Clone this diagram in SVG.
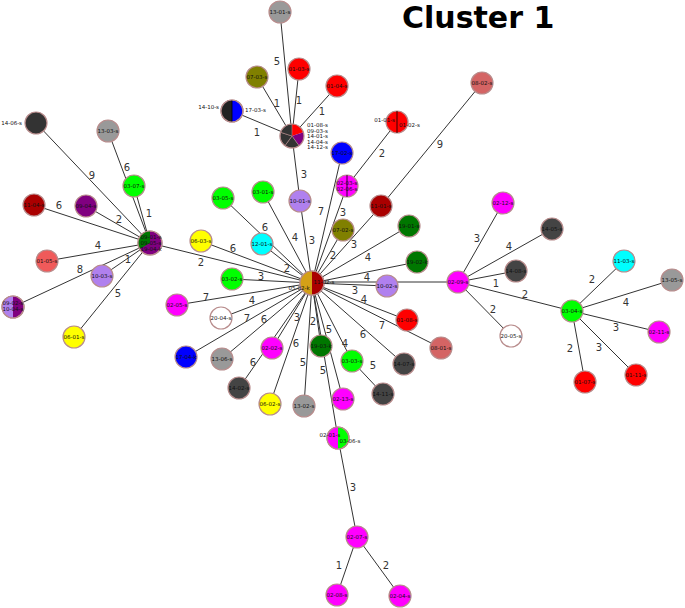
<svg xmlns="http://www.w3.org/2000/svg" width="685" height="608" viewBox="0 0 685 608">
<style>
.c line{stroke:#333;stroke-width:1}
.e{font-family:"DejaVu Sans",Verdana,sans-serif;font-size:10px;fill:#333;text-anchor:middle}
.n circle,.n path.o{stroke:#b88c8c;stroke-width:1.2}
.t{font-family:"DejaVu Sans",Verdana,sans-serif;font-size:5.5px;fill:#111;text-anchor:middle}
.s{stroke:#000;stroke-width:0.8}
</style>
<rect width="685" height="608" fill="#fff"/>
<text x="402" y="28" font-family="'DejaVu Sans',Verdana,sans-serif" font-weight="bold" font-size="30" fill="#000">Cluster 1</text>
<g id="connectors" class="c">
<line x1="150" y1="243" x2="36" y2="123"/>
<line x1="150" y1="243" x2="108" y2="131"/>
<line x1="150" y1="243" x2="134" y2="186"/>
<line x1="150" y1="243" x2="34" y2="205"/>
<line x1="150" y1="243" x2="86" y2="206"/>
<line x1="150" y1="243" x2="47" y2="261"/>
<line x1="150" y1="243" x2="102" y2="276"/>
<line x1="150" y1="243" x2="13" y2="307"/>
<line x1="150" y1="243" x2="74" y2="337"/>
<line x1="150" y1="243" x2="312" y2="283"/>
<line x1="292" y1="136" x2="280" y2="12"/>
<line x1="292" y1="136" x2="257" y2="77"/>
<line x1="292" y1="136" x2="299" y2="69"/>
<line x1="292" y1="136" x2="337" y2="86"/>
<line x1="292" y1="136" x2="232" y2="111"/>
<line x1="292" y1="136" x2="300" y2="201"/>
<line x1="312" y1="283" x2="300" y2="201"/>
<line x1="312" y1="283" x2="342" y2="153"/>
<line x1="312" y1="283" x2="347" y2="186"/>
<line x1="347" y1="186" x2="397" y2="122"/>
<line x1="312" y1="283" x2="381" y2="206"/>
<line x1="381" y1="206" x2="482" y2="83"/>
<line x1="312" y1="283" x2="343" y2="230"/>
<line x1="312" y1="283" x2="409" y2="226"/>
<line x1="312" y1="283" x2="417" y2="262"/>
<line x1="312" y1="283" x2="387" y2="286"/>
<line x1="312" y1="282" x2="458" y2="282"/>
<line x1="312" y1="283" x2="407" y2="320"/>
<line x1="312" y1="283" x2="441" y2="348"/>
<line x1="312" y1="283" x2="404" y2="364"/>
<line x1="312" y1="283" x2="352" y2="361"/>
<line x1="352" y1="361" x2="383" y2="394"/>
<line x1="312" y1="283" x2="343" y2="399"/>
<line x1="312" y1="283" x2="321" y2="346"/>
<line x1="312" y1="283" x2="338" y2="438"/>
<line x1="312" y1="283" x2="304" y2="406"/>
<line x1="312" y1="283" x2="270" y2="404"/>
<line x1="312" y1="283" x2="272" y2="348"/>
<line x1="312" y1="283" x2="239" y2="388"/>
<line x1="312" y1="283" x2="222" y2="359"/>
<line x1="312" y1="283" x2="186" y2="357"/>
<line x1="312" y1="283" x2="221" y2="318"/>
<line x1="312" y1="283" x2="177" y2="305"/>
<line x1="312" y1="283" x2="232" y2="279"/>
<line x1="312" y1="283" x2="262" y2="244"/>
<line x1="312" y1="283" x2="223" y2="198"/>
<line x1="312" y1="283" x2="201" y2="241"/>
<line x1="312" y1="283" x2="263" y2="192"/>
<line x1="458" y1="282" x2="503" y2="203"/>
<line x1="458" y1="282" x2="552" y2="229"/>
<line x1="458" y1="282" x2="516" y2="271"/>
<line x1="458" y1="282" x2="572" y2="311"/>
<line x1="458" y1="282" x2="511" y2="336"/>
<line x1="572" y1="311" x2="624" y2="261"/>
<line x1="572" y1="311" x2="672" y2="280"/>
<line x1="572" y1="311" x2="659" y2="332"/>
<line x1="572" y1="311" x2="636" y2="375"/>
<line x1="572" y1="311" x2="585" y2="382"/>
<line x1="338" y1="438" x2="357" y2="537"/>
<line x1="357" y1="537" x2="337" y2="595"/>
<line x1="357" y1="537" x2="400" y2="596"/>
<text class="e" x="92" y="179">9</text>
<text class="e" x="127" y="171">6</text>
<text class="e" x="149" y="217">1</text>
<text class="e" x="59" y="209">6</text>
<text class="e" x="119" y="223">2</text>
<text class="e" x="98" y="249">4</text>
<text class="e" x="128" y="263">1</text>
<text class="e" x="80" y="273">8</text>
<text class="e" x="118" y="297">5</text>
<text class="e" x="201" y="266">2</text>
<text class="e" x="277" y="65">5</text>
<text class="e" x="277" y="107">1</text>
<text class="e" x="299" y="104">1</text>
<text class="e" x="322" y="115">1</text>
<text class="e" x="257" y="136">1</text>
<text class="e" x="304" y="178">3</text>
<text class="e" x="321" y="215">7</text>
<text class="e" x="343" y="216">3</text>
<text class="e" x="382" y="157">2</text>
<text class="e" x="440" y="148">9</text>
<text class="e" x="265" y="231">6</text>
<text class="e" x="295" y="241">4</text>
<text class="e" x="312" y="244">3</text>
<text class="e" x="354" y="248">3</text>
<text class="e" x="333" y="259">2</text>
<text class="e" x="368" y="261">4</text>
<text class="e" x="233" y="252">6</text>
<text class="e" x="287" y="272">2</text>
<text class="e" x="261" y="280">3</text>
<text class="e" x="367" y="281">4</text>
<text class="e" x="355" y="294">3</text>
<text class="e" x="364" y="303">4</text>
<text class="e" x="206" y="301">7</text>
<text class="e" x="252" y="304">4</text>
<text class="e" x="247" y="322">7</text>
<text class="e" x="264" y="323">6</text>
<text class="e" x="297" y="321">3</text>
<text class="e" x="313" y="325">2</text>
<text class="e" x="329" y="333">5</text>
<text class="e" x="253" y="366">6</text>
<text class="e" x="296" y="347">6</text>
<text class="e" x="303" y="366">5</text>
<text class="e" x="323" y="374">5</text>
<text class="e" x="345" y="347">4</text>
<text class="e" x="382" y="329">7</text>
<text class="e" x="363" y="338">6</text>
<text class="e" x="373" y="369">5</text>
<text class="e" x="477" y="242">3</text>
<text class="e" x="509" y="250">4</text>
<text class="e" x="496" y="287">1</text>
<text class="e" x="525" y="298">2</text>
<text class="e" x="493" y="313">2</text>
<text class="e" x="592" y="283">2</text>
<text class="e" x="626" y="306">4</text>
<text class="e" x="616" y="331">3</text>
<text class="e" x="599" y="351">3</text>
<text class="e" x="570" y="352">2</text>
<text class="e" x="353" y="491">3</text>
<text class="e" x="339" y="569">1</text>
<text class="e" x="386" y="569">2</text>
</g>
<g id="n-14-06-s" class="n"><circle cx="36" cy="123" r="11" fill="#333"/><text class="t" x="22" y="125" style="text-anchor:end">14-06-s</text></g>
<g id="n-13-03-s" class="n"><circle cx="108" cy="131" r="11" fill="#999"/><text class="t" x="108" y="133">13-03-s</text></g>
<g id="n-03-07-s" class="n"><circle cx="134" cy="186" r="11" fill="#0f0"/><text class="t" x="134" y="188">03-07-s</text></g>
<g id="n-11-04-s" class="n"><circle cx="34" cy="205" r="11" fill="#a00"/><text class="t" x="34" y="207">11-04-s</text></g>
<g id="n-09-04-s" class="n"><circle cx="86" cy="206" r="11" fill="#800080"/><text class="t" x="86" y="208">09-04-s</text></g>
<g id="n-01-05-s" class="n"><circle cx="47" cy="261" r="11" fill="#f05a5a"/><text class="t" x="47" y="263">01-05-s</text></g>
<g id="n-10-03-s" class="n"><circle cx="102" cy="276" r="11" fill="#b080ee"/><text class="t" x="102" y="278">10-03-s</text></g>
<g id="n-09-02-s" class="n"><circle cx="13" cy="307" r="11" fill="#800080"/><path d="M13,296 A11,11 0 0,0 13,318 Z" fill="#b080ee"/><circle cx="13" cy="307" r="11" fill="none"/><text class="t" x="13" y="305">09-02-s</text><text class="t" x="13" y="311">10-04-s</text></g>
<g id="n-06-01-s" class="n"><circle cx="74" cy="337" r="11" fill="#ff0"/><text class="t" x="74" y="339">06-01-s</text></g>
<g id="n-09-01-s" class="n"><circle cx="150" cy="243" r="12" fill="#800080"/><path d="M150,243 L139.6,249 A12,12 0 0,1 150,231 Z" fill="#070"/><circle cx="150" cy="243" r="12" fill="none"/><text class="t" x="151" y="239">09-01-s</text><text class="t" x="151" y="245">09-05-s</text><text class="t" x="151" y="251">19-04-k</text></g>
<g id="n-13-01-s" class="n"><circle cx="280" cy="12" r="11" fill="#999"/><text class="t" x="280" y="14">13-01-s</text></g>
<g id="n-01-03-s" class="n"><circle cx="299" cy="69" r="11" fill="#f00"/><text class="t" x="299" y="71">01-03-s</text></g>
<g id="n-07-03-s" class="n"><circle cx="257" cy="77" r="11" fill="#808000"/><text class="t" x="257" y="79">07-03-s</text></g>
<g id="n-01-04-s" class="n"><circle cx="337" cy="86" r="11" fill="#f00"/><text class="t" x="337" y="88">01-04-s</text></g>
<g id="n-14-10-s" class="n"><circle cx="232" cy="111" r="11" fill="#00f"/><path d="M232,100 A11,11 0 0,0 232,122 Z" fill="#222"/><line class="s" x1="232" y1="100" x2="232" y2="122"/><circle cx="232" cy="111" r="11" fill="none"/><text class="t" x="219" y="109" style="text-anchor:end">14-10-s</text><text class="t" x="245" y="112" style="text-anchor:start">17-03-s</text></g>
<g id="n-01-08-s-group" class="n"><path d="M292,136 L292,124 A12,12 0 0,1 303.41,132.29 Z" fill="#f00"/><path d="M292,136 L303.41,132.29 A12,12 0 0,1 299.05,145.71 Z" fill="#800080"/><path d="M292,136 L299.05,145.71 A12,12 0 0,1 284.95,145.71 Z" fill="#333" stroke="#b88c8c" stroke-width="0.6"/><path d="M292,136 L284.95,145.71 A12,12 0 0,1 280.59,132.29 Z" fill="#333" stroke="#b88c8c" stroke-width="0.6"/><path d="M292,136 L280.59,132.29 A12,12 0 0,1 292,124 Z" fill="#333" stroke="#b88c8c" stroke-width="0.6"/><circle cx="292" cy="136" r="12" fill="none"/><text class="t" x="307" y="127" style="text-anchor:start">01-08-s</text><text class="t" x="307" y="132.5" style="text-anchor:start">09-03-s</text><text class="t" x="307" y="138" style="text-anchor:start">14-01-s</text><text class="t" x="307" y="143.5" style="text-anchor:start">14-04-s</text><text class="t" x="307" y="149" style="text-anchor:start">14-12-s</text></g>
<g id="n-01-01-s" class="n"><circle cx="397" cy="122" r="11" fill="#f00"/><line class="s" x1="397" y1="111" x2="397" y2="133"/><text class="t" x="395" y="122" style="text-anchor:end">01-01-s</text><text class="t" x="399" y="127" style="text-anchor:start">01-02-s</text></g>
<g id="n-08-02-s" class="n"><circle cx="482" cy="83" r="11" fill="#d46464"/><text class="t" x="482" y="85">08-02-s</text></g>
<g id="n-17-02-s" class="n"><circle cx="342" cy="153" r="11" fill="#00f"/><text class="t" x="342" y="155">17-02-s</text></g>
<g id="n-02-03-s" class="n"><circle cx="347" cy="186" r="11" fill="#f0f"/><line class="s" x1="347" y1="175" x2="347" y2="197"/><text class="t" x="347" y="185">02-03-s</text><text class="t" x="347" y="191">02-06-s</text></g>
<g id="n-03-05-s" class="n"><circle cx="223" cy="198" r="11" fill="#0f0"/><text class="t" x="223" y="200">03-05-s</text></g>
<g id="n-03-01-s" class="n"><circle cx="263" cy="192" r="11" fill="#0f0"/><text class="t" x="263" y="194">03-01-s</text></g>
<g id="n-10-01-s" class="n"><circle cx="300" cy="201" r="11" fill="#b080ee"/><text class="t" x="300" y="203">10-01-s</text></g>
<g id="n-11-01-s" class="n"><circle cx="381" cy="206" r="11" fill="#a00"/><text class="t" x="381" y="208">11-01-s</text></g>
<g id="n-19-01-s" class="n"><circle cx="409" cy="226" r="11" fill="#070"/><text class="t" x="409" y="228">19-01-s</text></g>
<g id="n-07-02-s" class="n"><circle cx="343" cy="230" r="11" fill="#808000"/><text class="t" x="343" y="232">07-02-s</text></g>
<g id="n-12-01-s" class="n"><circle cx="262" cy="244" r="11" fill="#0ff"/><text class="t" x="262" y="246">12-01-s</text></g>
<g id="n-06-03-s" class="n"><circle cx="201" cy="241" r="11" fill="#ff0"/><text class="t" x="201" y="243">06-03-s</text></g>
<g id="n-19-02-k" class="n"><circle cx="417" cy="262" r="11" fill="#070"/><text class="t" x="417" y="264">19-02-k</text></g>
<g id="n-03-02-s" class="n"><circle cx="232" cy="279" r="11" fill="#0f0"/><text class="t" x="232" y="281">03-02-s</text></g>
<g id="n-10-02-s" class="n"><circle cx="387" cy="286" r="11" fill="#b080ee"/><text class="t" x="387" y="288">10-02-s</text></g>
<g id="n-05-02-k" class="n"><circle cx="312" cy="283" r="12" fill="#a00"/><path d="M312,271 A12,12 0 0,0 312,295 Z" fill="#d4a017"/><circle cx="312" cy="283" r="12" fill="none"/><text class="t" x="324" y="284">11-02-s</text><text class="t" x="299" y="290">05-02-k</text></g>
<g id="n-02-05-s" class="n"><circle cx="177" cy="305" r="11" fill="#f0f"/><text class="t" x="177" y="307">02-05-s</text></g>
<g id="n-20-04-s" class="n"><circle cx="221" cy="318" r="11" fill="#fff"/><text class="t" x="221" y="320">20-04-s</text></g>
<g id="n-17-04-k" class="n"><circle cx="186" cy="357" r="11" fill="#00f"/><text class="t" x="186" y="359">17-04-k</text></g>
<g id="n-13-06-s" class="n"><circle cx="222" cy="359" r="11" fill="#999"/><text class="t" x="222" y="361">13-06-s</text></g>
<g id="n-02-02-s" class="n"><circle cx="272" cy="348" r="11" fill="#f0f"/><text class="t" x="272" y="350">02-02-s</text></g>
<g id="n-14-02-s" class="n"><circle cx="239" cy="388" r="11" fill="#444"/><text class="t" x="239" y="390">14-02-s</text></g>
<g id="n-19-03-k" class="n"><circle cx="321" cy="346" r="11" fill="#070"/><text class="t" x="321" y="348">19-03-k</text></g>
<g id="n-01-08-s" class="n"><circle cx="407" cy="320" r="11" fill="#f00"/><text class="t" x="407" y="322">01-08-s</text></g>
<g id="n-08-01-s" class="n"><circle cx="441" cy="348" r="11" fill="#d46464"/><text class="t" x="441" y="350">08-01-s</text></g>
<g id="n-14-07-s" class="n"><circle cx="404" cy="364" r="11" fill="#444"/><text class="t" x="404" y="366">14-07-s</text></g>
<g id="n-03-03-s" class="n"><circle cx="352" cy="361" r="11" fill="#0f0"/><text class="t" x="352" y="363">03-03-s</text></g>
<g id="n-14-11-s" class="n"><circle cx="383" cy="394" r="11" fill="#444"/><text class="t" x="383" y="396">14-11-s</text></g>
<g id="n-02-13-s" class="n"><circle cx="343" cy="399" r="11" fill="#f0f"/><text class="t" x="343" y="401">02-13-s</text></g>
<g id="n-13-02-s" class="n"><circle cx="304" cy="406" r="11" fill="#999"/><text class="t" x="304" y="408">13-02-s</text></g>
<g id="n-06-02-s" class="n"><circle cx="270" cy="404" r="11" fill="#ff0"/><text class="t" x="270" y="406">06-02-s</text></g>
<g id="n-02-01-s" class="n"><circle cx="338" cy="438" r="11" fill="#0f0"/><path d="M338,427 A11,11 0 0,0 338,449 Z" fill="#f0f"/><circle cx="338" cy="438" r="11" fill="none"/><text class="t" x="330" y="437">02-01-s</text><text class="t" x="350" y="443">03-06-s</text></g>
<g id="n-02-07-s" class="n"><circle cx="357" cy="537" r="11" fill="#f0f"/><text class="t" x="357" y="539">02-07-s</text></g>
<g id="n-02-08-s" class="n"><circle cx="337" cy="595" r="11" fill="#f0f"/><text class="t" x="337" y="597">02-08-s</text></g>
<g id="n-02-04-s" class="n"><circle cx="400" cy="596" r="11" fill="#f0f"/><text class="t" x="400" y="598">02-04-s</text></g>
<g id="n-02-09-s" class="n"><circle cx="458" cy="282" r="11" fill="#f0f"/><text class="t" x="458" y="284">02-09-s</text></g>
<g id="n-02-12-s" class="n"><circle cx="503" cy="203" r="11" fill="#f0f"/><text class="t" x="503" y="205">02-12-s</text></g>
<g id="n-14-05-s" class="n"><circle cx="552" cy="229" r="11" fill="#444"/><text class="t" x="552" y="231">14-05-s</text></g>
<g id="n-14-08-s" class="n"><circle cx="516" cy="271" r="11" fill="#444"/><text class="t" x="516" y="273">14-08-s</text></g>
<g id="n-20-05-s" class="n"><circle cx="511" cy="336" r="11" fill="#fff"/><text class="t" x="511" y="338">20-05-s</text></g>
<g id="n-03-04-s" class="n"><circle cx="572" cy="311" r="11" fill="#0f0"/><text class="t" x="572" y="313">03-04-s</text></g>
<g id="n-11-03-s" class="n"><circle cx="624" cy="261" r="11" fill="#0ff"/><text class="t" x="624" y="263">11-03-s</text></g>
<g id="n-13-05-s" class="n"><circle cx="672" cy="280" r="11" fill="#999"/><text class="t" x="672" y="282">13-05-s</text></g>
<g id="n-02-11-s" class="n"><circle cx="659" cy="332" r="11" fill="#f0f"/><text class="t" x="659" y="334">02-11-s</text></g>
<g id="n-01-11-s" class="n"><circle cx="636" cy="375" r="11" fill="#f00"/><text class="t" x="636" y="377">01-11-s</text></g>
<g id="n-01-07-s" class="n"><circle cx="585" cy="382" r="11" fill="#f00"/><text class="t" x="585" y="384">01-07-s</text></g>
</svg>
